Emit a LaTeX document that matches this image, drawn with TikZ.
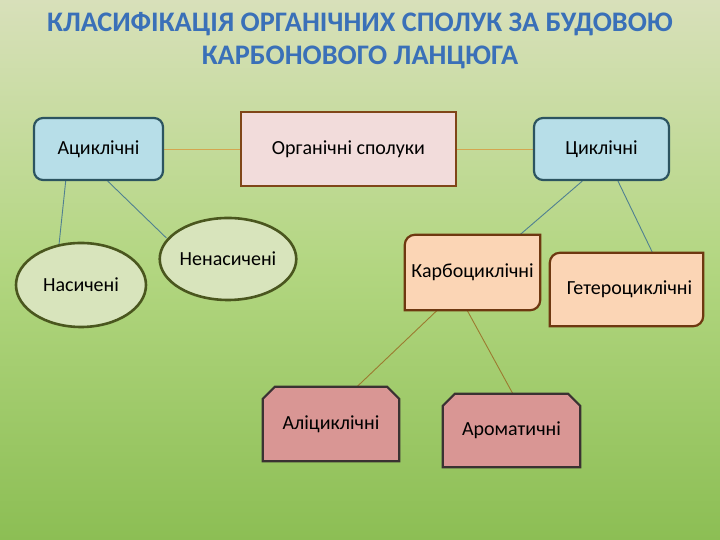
\documentclass[tikz,border=0pt]{standalone}
\usepackage{fontspec}
\setmainfont{Carlito}
\usetikzlibrary{shapes.geometric,calc}
\definecolor{bgtop}{RGB}{216,224,186}
\definecolor{bgmid}{RGB}{178,214,128}
\definecolor{bgbot}{RGB}{140,190,84}
\definecolor{titleblue}{RGB}{58,112,184}
\definecolor{bluefill}{RGB}{183,222,232}
\definecolor{blueline}{RGB}{44,84,96}
\definecolor{pinkfill}{RGB}{242,220,219}
\definecolor{brownline}{RGB}{128,70,24}
\definecolor{ellfill}{RGB}{216,228,188}
\definecolor{ellline}{RGB}{74,86,30}
\definecolor{peachfill}{RGB}{251,213,181}
\definecolor{peachline}{RGB}{110,56,16}
\definecolor{rosefill}{RGB}{217,150,148}
\definecolor{roseline}{RGB}{58,50,50}
\definecolor{tealconn}{RGB}{80,128,145}
\definecolor{tanconn}{RGB}{212,166,80}
\definecolor{oliveconn}{RGB}{156,122,48}
\pgfdeclarelayer{back}
\pgfdeclarelayer{lines}
\pgfdeclarelayer{shapes}
\pgfsetlayers{back,lines,shapes,main}
\tikzset{
  every node/.style={font=\fontsize{20bp}{24bp}\selectfont, text=black, inner sep=0pt},
  titlestyle/.style={font=\fontsize{28.3bp}{32bp}\bfseries\selectfont, text=titleblue},
  bluebox/.style={rectangle, rounded corners=9bp, draw=blueline, line width=2.2bp, fill=bluefill},
  pinkbox/.style={rectangle, draw=brownline, line width=2.6bp, fill=pinkfill},
  ellbox/.style={ellipse, draw=ellline, line width=2.6bp, fill=ellfill},
  peachoutline/.style={draw=peachline, line width=2.2bp, fill=peachfill},
  roseoutline/.style={draw=roseline, line width=2.2bp, fill=rosefill},
  conn/.style={line width=0.9bp},
}
\begin{document}
\begin{tikzpicture}[x=1bp,y=1bp]
\useasboundingbox (0,0) rectangle (720,540);
\begin{pgfonlayer}{back}
\shade[top color=bgtop, bottom color=bgbot, middle color=bgmid] (0,0) rectangle (720,540);
\end{pgfonlayer}
% title
\node[titlestyle] (t1) at (360,516) {КЛАСИФІКАЦІЯ ОРГАНІЧНИХ СПОЛУК ЗА БУДОВОЮ};
\node[titlestyle] (t2) at (360,483) {КАРБОНОВОГО ЛАНЦЮГА};
% top row
\node[bluebox, minimum width=129bp, minimum height=62bp] (acy) at (98.5,391) {Ациклічні};
\node[pinkbox, minimum width=215bp, minimum height=74bp] (org) at (348.5,391) {Органічні сполуки};
\node[bluebox, minimum width=135bp, minimum height=62bp] (cyc) at (601.5,391) {Циклічні};
% ellipses
\node[ellbox, minimum width=130bp, minimum height=84bp] (nas) at (81,255) {Насичені};
\node[ellbox, minimum width=130bp, minimum height=82bp] (nen) at (228,281) {\raisebox{1bp}{Ненасичені}};
% custom-shaped nodes
\node[minimum width=135bp, minimum height=75bp] (karbo) at (472.5,267.5) {\raisebox{2bp}{Карбоциклічні}};
\node[minimum width=153bp, minimum height=73bp] (het) at (626.5,250.5) {\hspace*{6bp}\raisebox{-2bp}{Гетероциклічні}};
\node[minimum width=136bp, minimum height=74bp] (ali) at (331,116) {\raisebox{2bp}{Аліциклічні}};
\node[minimum width=137bp, minimum height=73bp] (aro) at (511.5,109.5) {\raisebox{-8bp}{Ароматичні}};
\begin{pgfonlayer}{shapes}
\foreach \n in {karbo,het}{
  \draw[peachoutline] ([yshift=-10bp]\n.north west) arc[start angle=180, end angle=90, radius=10bp]
    -- (\n.north east) -- ([yshift=10bp]\n.south east) arc[start angle=0, end angle=-90, radius=10bp]
    -- (\n.south west) -- cycle;
}
\foreach \n in {ali,aro}{
  \draw[roseoutline] (\n.south west) -- ([yshift=-12bp]\n.north west) -- ([xshift=12bp]\n.north west)
    -- ([xshift=-12bp]\n.north east) -- ([yshift=-12bp]\n.north east) -- (\n.south east) -- cycle;
}
\end{pgfonlayer}
\begin{pgfonlayer}{lines}
\draw[conn, tanconn] (acy.east) -- (org.west);
\draw[conn, tanconn] (org.east) -- (cyc.west);
\draw[conn, tealconn] ($(acy.south west)!0.25!(acy.south east)$) -- ($(nas.north)+(-22bp,-3bp)$);
\draw[conn, tealconn] ($(acy.south west)!0.57!(acy.south east)$) -- ($(nen.west)+(8bp,21bp)$);
\draw[conn, tealconn] ($(cyc.south west)!0.36!(cyc.south east)$) -- ($(karbo.north west)!0.85!(karbo.north east)$);
\draw[conn, tealconn] ($(cyc.south west)!0.62!(cyc.south east)$) -- ($(het.north west)!0.67!(het.north east)$);
\draw[conn, oliveconn] ($(karbo.south west)!0.24!(karbo.south east)$) -- ($(ali.north west)!0.69!(ali.north east)$);
\draw[conn, oliveconn] ($(karbo.south west)!0.46!(karbo.south east)$) -- ($(aro.north west)!0.51!(aro.north east)$);
\end{pgfonlayer}
\end{tikzpicture}
\end{document}
